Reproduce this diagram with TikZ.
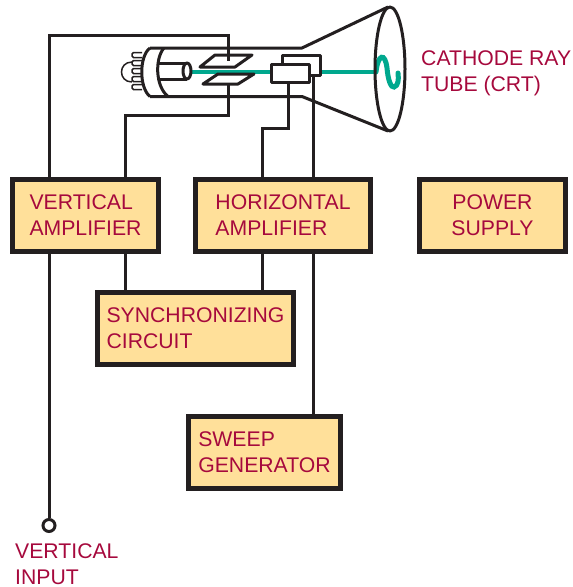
\documentclass[tikz,border=0pt]{standalone}
\usepackage{fontspec}
\setmainfont{Liberation Sans}
\usepackage{xcolor}
\usetikzlibrary{positioning}
\definecolor{inkline}{HTML}{231F20}
\definecolor{boxfill}{HTML}{FFE09A}
\definecolor{labelred}{HTML}{A6093D}
\definecolor{beamteal}{HTML}{00A88E}
\begin{document}
\begin{tikzpicture}[x=1pt, y=-1pt, node distance=32pt, every node/.style={font=\fontsize{21.2}{26}\selectfont}, blockbox/.style={draw=inkline, line width=5pt, fill=boxfill, text=labelred, align=left, minimum height=72pt, inner sep=0pt}, label/.style={text=labelred, align=left, inner sep=0pt}, wire/.style={draw=inkline, line width=3pt}, tube/.style={draw=inkline, line width=3pt, line join=round}, thintube/.style={draw=inkline, line width=1.5pt}]
\useasboundingbox (0,0) rectangle (573,587);
\node[blockbox, minimum width=146pt] (vamp) at (85.5,215.5) {VERTICAL\\AMPLIFIER};
\node[blockbox, minimum width=175pt, right=of vamp] (hamp) {HORIZONTAL\\AMPLIFIER};
\node[blockbox, minimum width=146pt, align=center, right=44pt of hamp] (power) {POWER\\SUPPLY};
\node[blockbox, minimum width=196pt, below=36pt of vamp, xshift=110pt] (sync) {SYNCHRONIZING\\CIRCUIT};
\node[blockbox, minimum width=152pt, below=47pt of sync, xshift=69pt] (sweep) {SWEEP\\GENERATOR};
\node[draw=inkline, line width=3pt, circle, minimum size=12pt, inner sep=0pt] (vin) at (49,525.5) {};
\node[label, anchor=north west] (crtlabel) at (421,50.5) {CATHODE RAY\\TUBE (CRT)};
\node[label, anchor=north west] (inputlabel) at (15,543) {VERTICAL\\INPUT};
\draw[beamteal, line width=3.5pt] (192,72) -- (377,72);
\draw[beamteal, line width=5pt, line cap=round] (376,72) .. controls (378,54) and (385,52) .. (387,68) .. controls (388,80) and (391,88) .. (394,87) .. controls (398,86) and (399,80) .. (398,73);
\draw[tube] (150,48) -- (302,48) -- (388,7);
\draw[tube] (150,96.5) -- (302,96.5) -- (388,131);
\draw[tube] (390,69) ellipse (15 and 62);
\draw[tube] (150,48) .. controls (139,56) and (139,88) .. (150,96.5);
\draw[tube] (164,48) .. controls (155,58) and (155,86) .. (168,96.5);
\draw[tube] (159,63) -- (187,63);
\draw[tube] (159,79) -- (187,79);
\draw[tube] (187,71) ellipse (4 and 8);
\foreach \y in {55,63,71,79,87}
  \draw[thintube, rounded corners=1.5pt] (142,\y-2.5) -- (132,\y-2.5) -- (132,\y+2.5) -- (142,\y+2.5);
\draw[thintube] (132,62) .. controls (118,62) and (118,82) .. (132,82);
\draw[tube] (200,67) -- (235,67) -- (252,55) -- (215,55) -- cycle;
\draw[tube] (203,84) -- (238,84) -- (254,74) -- (218,74) -- cycle;
\draw[tube, fill=white] (282,55) rectangle (320,75);
\draw[tube, fill=white] (271,64) rectangle (309,82);
\coordinate (topplate) at (228,61);
\coordinate (topturn) at (228,35);
\coordinate (lowplate) at (228,84);
\coordinate (lowturn) at (228,115);
\coordinate (hfront) at (288,82);
\coordinate (hturn) at (288,128);
\coordinate (hback) at (313,75);
\draw[wire] (vin.north) -- (vin.north |- vamp.south);
\draw[wire] (vin.north |- vamp.north) |- (topturn) -- (topplate);
\draw[wire] ([xshift=39.5pt]vamp.north) |- (lowturn) -- (lowplate);
\draw[wire] ([xshift=-21pt]hamp.north) |- (hturn) -- (hfront);
\draw[wire] ([xshift=30pt]hamp.north) -- (hback);
\draw[wire] ([xshift=39.5pt]vamp.south) -- ([xshift=39.5pt]vamp.south |- sync.north);
\draw[wire] ([xshift=-21pt]hamp.south) -- ([xshift=-21pt]hamp.south |- sync.north);
\draw[wire] ([xshift=30pt]hamp.south) -- ([xshift=30pt]hamp.south |- sweep.north);
\end{tikzpicture}
\end{document}
